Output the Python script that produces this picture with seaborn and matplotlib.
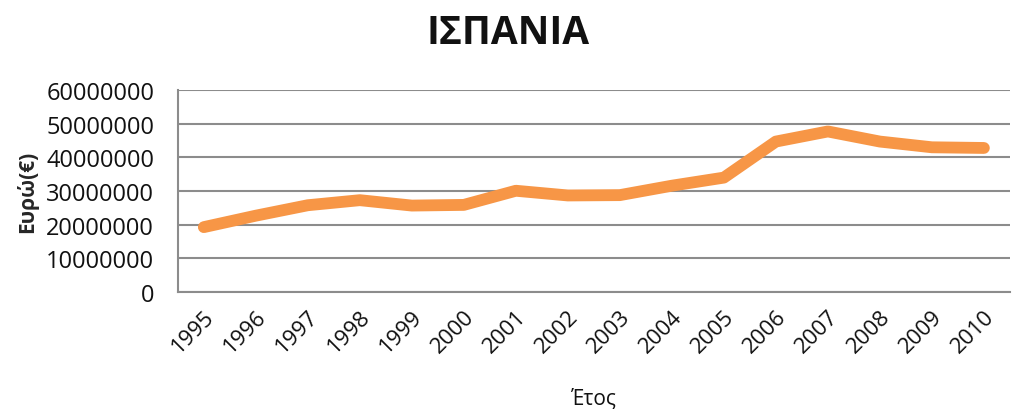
import pandas as pd
import matplotlib.pyplot as plt
import seaborn as sns

# Values (euros per year)
years = ['1995', '1996', '1997', '1998', '1999', '2000', '2001', '2002',
         '2003', '2004', '2005', '2006', '2007', '2008', '2009', '2010']
euros = [19300000, 22700000, 25800000, 27300000, 25700000, 25900000, 30100000, 28700000,
         28800000, 31600000, 34000000, 44700000, 47700000, 44700000, 43000000, 42800000]

df = pd.DataFrame({'year': years, 'euros': euros})

sns.set_style('white')
plt.rcParams['font.family'] = ['Open Sans', 'DejaVu Sans']

fig, ax = plt.subplots(figsize=(10.16, 4.10), dpi=100)
fig.subplots_adjust(left=0.175, right=0.994, top=0.778, bottom=0.285)

sns.lineplot(data=df, x='year', y='euros', ax=ax, color='#F79646',
             linewidth=8.5, solid_capstyle='round', solid_joinstyle='round', sort=False)

ax.set_xlim(-0.5, len(years) - 0.5)
ax.set_ylim(0, 60000000)
ax.set_yticks(range(0, 60000001, 10000000))
ax.set_yticklabels([str(v) for v in range(0, 60000001, 10000000)], fontsize=17, color='#111111')
ax.set_xticks(range(len(years)))
ax.set_xticklabels(years, rotation=45, fontsize=16, color='#111111',
                   ha='right', rotation_mode='anchor')

ax.yaxis.grid(True, color='#8c8c8c', linewidth=1.5)
ax.set_axisbelow(True)
for side in ['top', 'right']:
    ax.spines[side].set_visible(False)
ax.spines['left'].set_color('#8c8c8c')
ax.spines['bottom'].set_color('#8c8c8c')
ax.spines['left'].set_linewidth(1.5)
ax.spines['bottom'].set_linewidth(1.5)
ax.tick_params(axis='y', length=7, color='#8c8c8c', width=1.5, pad=10)
ax.tick_params(axis='x', length=0, pad=10)

ax.set_ylabel('Ευρώ(€)', fontsize=15, fontweight='bold', labelpad=6)
ax.set_xlabel('Έτος', fontsize=15, labelpad=22, color='#111111')
fig.suptitle('ΙΣΠΑΝΙΑ', fontsize=28, fontweight='bold', x=0.5, y=0.965, color='#111111')

fig.savefig('out.png', dpi=100)
